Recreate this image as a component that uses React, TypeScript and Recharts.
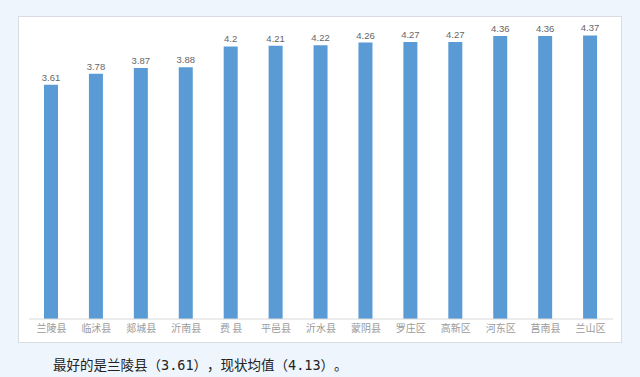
import React from 'react';
import { BarChart, Bar, XAxis, YAxis, LabelList } from 'recharts';

const counties = [
  '兰陵县', '临沭县', '郯城县', '沂南县', '费 县', '平邑县', '沂水县',
  '蒙阴县', '罗庄区', '高新区', '河东区', '莒南县', '兰山区',
];
const scores = [3.61, 3.78, 3.87, 3.88, 4.2, 4.21, 4.22, 4.26, 4.27, 4.27, 4.36, 4.36, 4.37];

const data = counties.map((name, i) => ({ name, value: scores[i] }));

const App: React.FC = () => {
  return (
    <div
      style={{
        position: 'fixed',
        top: 0,
        left: 0,
        width: 640,
        height: 377,
        background: '#eef5fd',
        fontFamily: '"Noto Sans CJK SC", "Noto Sans", sans-serif',
      }}
    >
      {/* white chart panel */}
      <div
        style={{
          position: 'absolute',
          left: 18,
          top: 16,
          width: 604,
          height: 327,
          boxSizing: 'border-box',
          border: '1px solid #d9dde3',
          background: '#ffffff',
        }}
      >
        <BarChart
          width={602}
          height={325}
          data={data}
          margin={{ top: 10, right: 8, left: 10, bottom: 3 }}
          barSize={14}
        >
          <XAxis
            dataKey="name"
            height={20}
            interval={0}
            tickLine={false}
            tickMargin={0}
            axisLine={{ stroke: '#d9d9d9' }}
            tick={{ fontSize: 10, fill: '#9a9a9a' }}
          />
          <YAxis hide domain={[0, 4.5]} />
          <Bar dataKey="value" fill="#5b9bd5" isAnimationActive={false}>
            <LabelList
              dataKey="value"
              position="top"
              offset={4}
              style={{ fontSize: 9.5, fill: '#666666', fontFamily: '"Liberation Sans", sans-serif' }}
            />
          </Bar>
        </BarChart>
      </div>

      {/* caption under the chart */}
      <div
        style={{
          position: 'absolute',
          left: 53,
          top: 356,
          fontSize: 13.5,
          lineHeight: '18px',
          color: '#222222',
          whiteSpace: 'nowrap',
          fontFamily: '"DejaVu Sans Mono", "Noto Sans CJK SC", sans-serif',
          textSpacingTrim: 'space-all',
        } as React.CSSProperties}
      >
        最好的是兰陵县（3.61），现状均值（4.13）。
      </div>
    </div>
  );
};

export default App;
